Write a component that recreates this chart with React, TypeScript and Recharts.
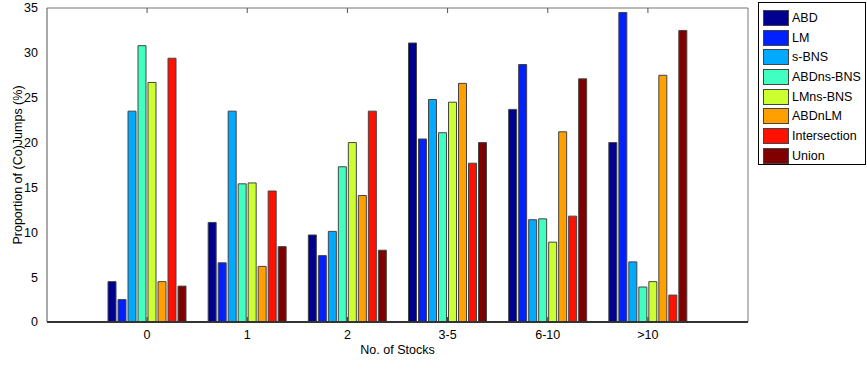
import { Bar, BarChart, Label, XAxis, YAxis } from "recharts";

const categories = ["0", "1", "2", "3-5", "6-10", ">10"];
const seriesNames = ["ABD", "LM", "s-BNS", "ABDns-BNS", "LMns-BNS", "ABDnLM", "Intersection", "Union"];
const colors = ["#000090", "#0020ff", "#00aaff", "#40ffc0", "#ccff30", "#ffa000", "#ff1000", "#800000"];

const abd = [4.5, 11.1, 9.7, 31.1, 23.7, 20.0];
const lm = [2.5, 6.6, 7.4, 20.4, 28.7, 34.5];
const sBns = [23.5, 23.5, 10.1, 24.8, 11.4, 6.7];
const abdNsBns = [30.8, 15.4, 17.3, 21.1, 11.5, 3.9];
const lmNsBns = [26.7, 15.5, 20.0, 24.5, 8.9, 4.5];
const abdNLm = [4.5, 6.2, 14.1, 26.6, 21.2, 27.5];
const intersection = [29.4, 14.6, 23.5, 17.7, 11.8, 3.0];
const union = [4.0, 8.4, 8.0, 20.0, 27.1, 32.5];

const yTicks = [0, 5, 10, 15, 20, 25, 30, 35];

const series = [abd, lm, sBns, abdNsBns, lmNsBns, abdNLm, intersection, union];
const data = categories.map((c, i) => {
  const row: Record<string, string | number> = { cat: c };
  seriesNames.forEach((n, k) => (row[n] = series[k][i]));
  return row;
});

const font = "'Liberation Sans', Arial, sans-serif";
const tickStyle = { fontSize: 12.5, fill: "#000", fontFamily: font };
const noTick = () => <g />;

// inward tick marks on all four sides of the box
function tickAxes() {
  return [
    <XAxis
      key="tb"
      xAxisId="tb"
      dataKey="cat"
      padding={{ left: 50, right: 50 }}
      mirror
      tick={noTick}
      tickSize={5}
      axisLine={false}
      tickLine={{ stroke: "#333" }}
    />,
    <XAxis
      key="tt"
      xAxisId="tt"
      orientation="top"
      dataKey="cat"
      padding={{ left: 50, right: 50 }}
      mirror
      tick={noTick}
      tickSize={5}
      axisLine={{ stroke: "#777" }}
      tickLine={{ stroke: "#555" }}
    />,
    <YAxis
      key="tl"
      yAxisId="tl"
      domain={[0, 35]}
      ticks={yTicks}
      interval={0}
      mirror
      tick={noTick}
      tickSize={5}
      axisLine={false}
      tickLine={{ stroke: "#555" }}
    />,
    <YAxis
      key="tr"
      yAxisId="tr"
      orientation="right"
      domain={[0, 35]}
      ticks={yTicks}
      interval={0}
      mirror
      tick={noTick}
      tickSize={5}
      axisLine={{ stroke: "#777" }}
      tickLine={{ stroke: "#555" }}
    />,
  ];
}

export default function App() {
  return (
    <div style={{ position: "absolute", left: 0, top: 0, width: 867, height: 370, background: "#fff" }}>
      <BarChart
        width={867}
        height={370}
        data={data}
        margin={{ top: 8, right: 119, bottom: 8, left: 7 }}
        barSize={8}
        barGap={2}
      >
        {tickAxes()}
        <XAxis
          xAxisId="x"
          dataKey="cat"
          padding={{ left: 50, right: 50 }}
          tick={tickStyle}
          tickLine={false}
          tickMargin={2}
          height={40}
          axisLine={{ stroke: "#333", strokeWidth: 2 }}
        >
          <Label
            value="No. of Stocks"
            position="insideBottom"
            offset={8}
            style={{ fontSize: 12.5, fontFamily: font, fill: "#000" }}
          />
        </XAxis>
        <YAxis
          yAxisId="y"
          domain={[0, 35]}
          ticks={yTicks}
          interval={0}
          tick={tickStyle}
          tickLine={false}
          tickMargin={3}
          width={40}
          axisLine={{ stroke: "#555" }}
        />
        {seriesNames.map((n, k) => (
          <Bar
            key={n}
            xAxisId="x"
            yAxisId="y"
            dataKey={n}
            fill={colors[k]}
            stroke="#444"
            strokeWidth={1}
            isAnimationActive={false}
          />
        ))}
        <text
          x={22}
          y={165}
          transform="rotate(-90, 22, 165)"
          textAnchor="middle"
          style={{ fontSize: 12.5, fontFamily: font, fill: "#000" }}
        >
          Proportion of (Co)Jumps (%)
        </text>
      </BarChart>
      <div
        style={{
          position: "absolute",
          left: 758,
          top: 2,
          width: 108,
          height: 163,
          border: "1px solid #000",
          background: "#fff",
          fontFamily: font,
          fontSize: 12.5,
          boxSizing: "border-box",
          paddingTop: 5,
        }}
      >
        {seriesNames.map((n, k) => (
          <div key={n} style={{ display: "flex", alignItems: "center", height: 19.7, whiteSpace: "nowrap" }}>
            <div
              style={{
                width: 26,
                height: 16,
                marginLeft: 4,
                marginRight: 3,
                background: colors[k],
                border: "1px solid #444",
                boxSizing: "border-box",
                flexShrink: 0,
              }}
            />
            <span>{n}</span>
          </div>
        ))}
      </div>
    </div>
  );
}
